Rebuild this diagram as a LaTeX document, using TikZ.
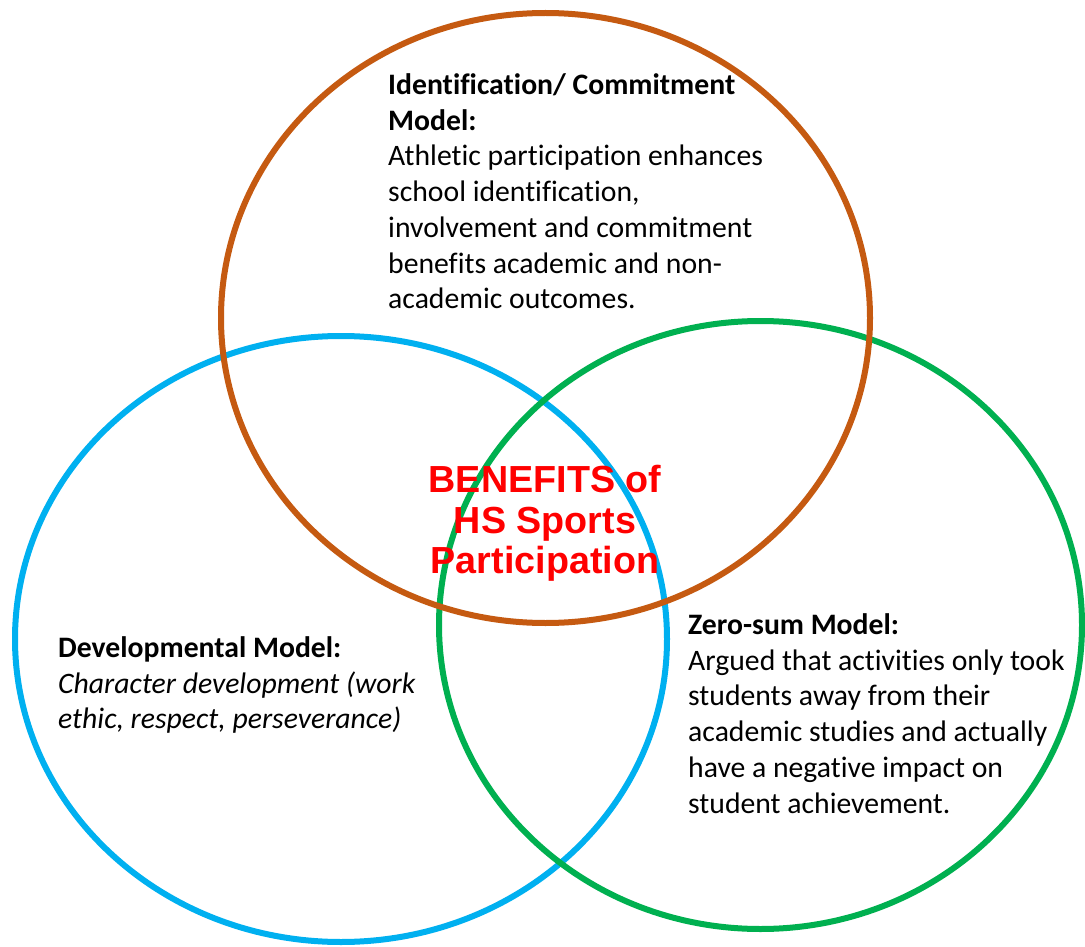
\documentclass[tikz,border=0pt]{standalone}
\usepackage{fontspec}
\setmainfont[Ligatures=NoCommon]{Carlito}
\newfontfamily\titlefont{Liberation Sans}
\definecolor{corange}{HTML}{C55A11}
\definecolor{cblue}{HTML}{00B0F0}
\definecolor{cgreen}{HTML}{00B050}
\definecolor{cred}{HTML}{FF0000}
\begin{document}
\begin{tikzpicture}[x=1pt,y=-1pt,
  ring/.style={line width=6pt},
  bodytext/.style={anchor=north west,inner sep=0pt,align=left,
    font=\fontsize{29.7}{35.7}\selectfont},
  titletext/.style={inner sep=0pt,align=center,text=cred,
    font=\titlefont\bfseries\fontsize{37.7}{40.7}\selectfont}]
\useasboundingbox (0,0) rectangle (1085,947);
\fill[white] (0,0) rectangle (1085,947);
\draw[ring,cblue] (341,639) ellipse [x radius=326, y radius=303];
\draw[ring,cgreen] (760.5,625) ellipse [x radius=321.5, y radius=304];
\draw[ring,corange] (545.5,318) ellipse [x radius=324.5, y radius=305];
\node[bodytext] (ident) at (388,73.5) {\textbf{Identification/ Commitment}\\
  \textbf{Model:}\\
  Athletic participation enhances\\
  school identification,\\
  involvement and commitment\\
  benefits academic and non-\\
  academic outcomes.};
\node[bodytext] (dev) at (58,636.5) {\textbf{Developmental Model:}\\
  \textit{Character development (work}\\
  \textit{ethic, respect, perseverance)}};
\node[bodytext] (zero) at (688,613.5) {\textbf{Zero-sum Model:}\\
  Argued that activities only took\\
  students away from their\\
  academic studies and actually\\
  have a negative impact on\\
  student achievement.};
\node[titletext] (title) at (545,523.5) {BENEFITS of\\HS Sports\\Participation};
\end{tikzpicture}
\end{document}
